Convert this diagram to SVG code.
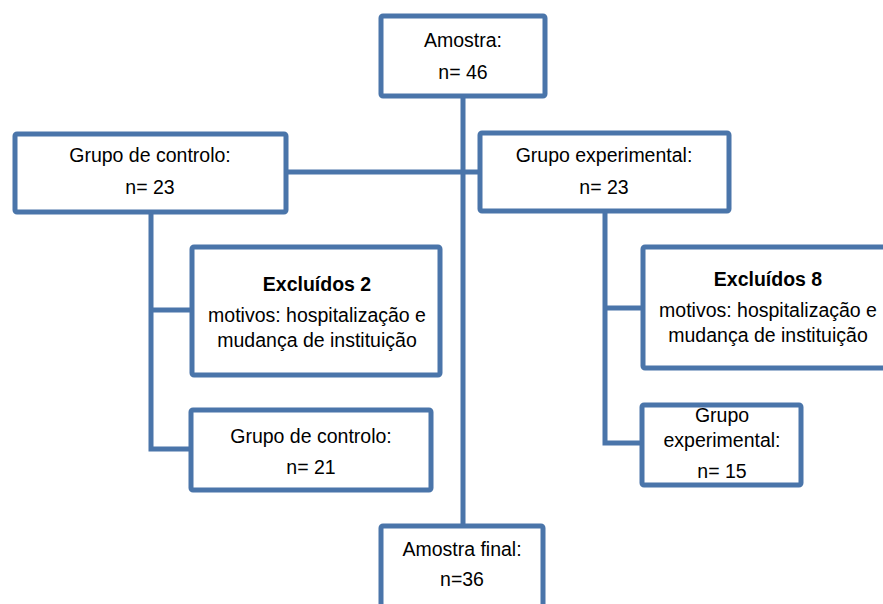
<svg xmlns="http://www.w3.org/2000/svg" width="883" height="604" viewBox="0 0 883 604">
<style>
.box{fill:#fff;stroke:#4a75aa;stroke-width:5}
.ln{fill:none;stroke:#4a75aa;stroke-width:5}
text{font-family:"Liberation Sans",Arial,sans-serif;font-size:19.5px;fill:#000;text-anchor:middle}
.b{font-weight:bold}
</style>
<rect width="883" height="604" fill="#fff"/>
<g id="connectors">
<path class="ln" d="M463 96V526"/>
<path class="ln" d="M286 172H480"/>
<path class="ln" d="M151 212V449H191"/>
<path class="ln" d="M151 310H192"/>
<path class="ln" d="M605 211V443H642"/>
<path class="ln" d="M605 308H643"/>
</g>
<g id="amostra">
<rect class="box" x="381" y="16" width="164" height="80" rx="2"/>
<text x="463" y="47">Amostra:</text>
<text x="463" y="79">n= 46</text>
</g>
<g id="controlo">
<rect class="box" x="15" y="134" width="271" height="78" rx="2"/>
<text x="150" y="162">Grupo de controlo:</text>
<text x="150" y="194">n= 23</text>
</g>
<g id="experimental">
<rect class="box" x="480" y="133" width="249" height="78" rx="2"/>
<text x="604" y="162">Grupo experimental:</text>
<text x="604" y="194">n= 23</text>
</g>
<g id="excluidos2">
<rect class="box" x="192" y="247" width="248" height="128" rx="2"/>
<text class="b" x="317" y="291">Excluídos 2</text>
<text x="317" y="322">motivos: hospitalização e</text>
<text x="317" y="347">mudança de instituição</text>
</g>
<g id="controlo21">
<rect class="box" x="191" y="410" width="240" height="80" rx="2"/>
<text x="311" y="443">Grupo de controlo:</text>
<text x="311" y="474">n= 21</text>
</g>
<g id="excluidos8">
<rect class="box" x="643" y="247" width="250" height="121" rx="2"/>
<text class="b" x="768" y="286">Excluídos 8</text>
<text x="768" y="317">motivos: hospitalização e</text>
<text x="768" y="342">mudança de instituição</text>
</g>
<g id="experimental15">
<rect class="box" x="642" y="405" width="159" height="80" rx="2"/>
<text x="722" y="422">Grupo</text>
<text x="722" y="447">experimental:</text>
<text x="722" y="478">n= 15</text>
</g>
<g id="amostrafinal">
<rect class="box" x="381" y="526" width="162" height="90" rx="2"/>
<text x="462" y="556">Amostra final:</text>
<text x="462" y="586">n=36</text>
</g>
</svg>
